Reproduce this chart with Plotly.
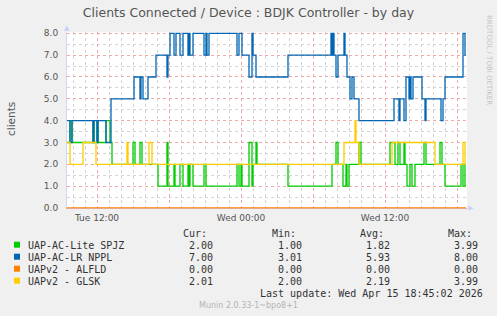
import plotly.graph_objects as go

# ---------------- data ----------------
# change points (day-of-month HH:MM, April 2026) and step values
green_t = ["14 09:30","14 09:45","14 09:55","14 11:40","14 11:45","14 12:00","14 12:05","14 12:45","14 13:05","14 13:15",
           "14 15:00","14 15:10","14 15:35","14 15:45","14 17:05","14 17:50","14 17:55","14 18:25","14 18:30","14 18:55",
           "14 19:10","14 19:35","14 19:40","14 19:45","14 20:00","14 20:55","14 21:05","14 23:40","14 23:50","15 00:00",
           "15 00:05","15 00:40","15 00:55","15 01:00","15 01:15","15 01:20","15 03:55","15 07:35","15 07:55","15 08:05",
           "15 08:30","15 08:45","15 08:50","15 09:00","15 09:50","15 10:00","15 12:25","15 12:50","15 13:05","15 13:15",
           "15 13:35","15 13:40","15 13:50","15 14:05","15 14:15","15 14:30","15 15:15","15 15:25","15 16:35","15 16:45",
           "15 17:00","15 18:20","15 18:30","15 18:40","15 18:45"]
green_v = [3,4,3,4,3,4,3,4,3,2,
           3,2,3,2,1,3,1,2,1,2,
           1,2,1,2,1,2,1,2,1,2,
           1,3,1,2,3,2,1,2,3,2,
           1,2,1,2,3,2,3,2,3,2,
           3,2,1,2,1,2,3,2,3,2,
           1,2,1,2,2]

blue_t = ["14 09:30","14 09:45","14 09:55","14 11:40","14 11:45","14 12:00","14 12:05","14 12:45","14 13:10","14 15:05",
          "14 15:35","14 15:40","14 15:50","14 16:15","14 16:55","14 17:50","14 17:55","14 18:05","14 18:25","14 18:35",
          "14 18:55","14 19:10","14 19:35","14 19:40","14 19:45","14 20:00","14 20:55","14 21:05","14 21:10","14 21:20",
          "14 23:40","14 23:50","15 00:05","15 00:40","15 00:55","15 01:00","15 01:15","15 03:55","15 07:30","15 07:35",
          "15 07:40","15 07:45","15 07:55","15 08:05","15 08:35","15 08:40","15 08:50","15 09:05","15 09:15","15 09:25",
          "15 09:50","15 12:45","15 13:10","15 13:15","15 13:35","15 13:45","15 14:00","15 14:05","15 14:10","15 14:20",
          "15 15:05","15 15:20","15 15:25","15 16:40","15 16:50","15 17:00","15 18:30","15 18:40","15 18:45"]
blue_v = [4,3,4,3,4,3,4,3,5,6,
          5,6,5,6,7,6,7,8,7,8,
          7,8,7,8,7,8,7,8,7,8,
          7,8,7,6,8,7,6,7,8,7,
          8,7,6,7,8,7,6,5,6,5,
          4,5,4,5,4,6,5,6,5,6,
          5,4,5,4,5,6,8,7,7]

orange_t = ["14 09:30","15 18:45"]
orange_v = [0,0]

yellow_t = ["14 09:30","14 09:45","14 10:50","14 11:55","14 14:30","14 14:35","14 16:20","14 16:35","15 08:35","15 09:30",
            "15 09:35","15 09:50","15 12:35","15 16:10","15 18:30","15 18:40","15 18:45"]
yellow_v = [3,2,3,2,3,2,3,2,3,4,
            3,2,3,2,3,2,2]

names = ["UAP-AC-Lite SPJZ", "UAP-AC-LR NPPL", "UAPv2 - ALFLD", "UAPv2 - GLSK"]
colors = ["#00CC00", "#0066B3", "#FF8000", "#FFCC00"]
cur = ["2.00", "7.00", "0.00", "2.01"]
mins = ["1.00", "3.01", "0.00", "2.00"]
avgs = ["1.82", "5.93", "0.00", "2.19"]
maxs = ["3.99", "8.00", "0.00", "3.99"]

x_ticks = ["2026-04-14 12:00", "2026-04-14 18:00", "2026-04-15 00:00", "2026-04-15 06:00",
           "2026-04-15 12:00", "2026-04-15 18:00"]
x_ticktext = ["Tue 12:00", "", "Wed 00:00", "", "Wed 12:00", ""]
y_ticks = [0, 1, 2, 3, 4, 5, 6, 7, 8]

title = "Clients Connected / Device : BDJK Controller - by day"
last_update = "Last update: Wed Apr 15 18:45:02 2026"
munin_ver = "Munin 2.0.33-1~bpo8+1"


def to_dt(s):
    return "2026-04-" + s


# ---------------- figure ----------------
W, H = 497, 316
L, R, T, B = 67, 30, 32, 108
PW, PH = W - L - R, H - T - B


def px(X):
    return (X - L) / PW


def py(Y):
    return (H - B - Y) / PH


fig = go.Figure()
series = [(green_t, green_v), (blue_t, blue_v), (orange_t, orange_v), (yellow_t, yellow_v)]
for (t, v), c, n in zip(series, colors, names):
    fig.add_trace(go.Scatter(x=[to_dt(s) for s in t], y=v, mode="lines", name=n,
                             line=dict(color=c, width=1.3, shape="hv"),
                             showlegend=False, hoverinfo="skip"))

mono = "DejaVu Sans Mono"
sans = "DejaVu Sans"

fig.update_layout(
    width=W, height=H,
    margin=dict(l=L, r=R, t=T, b=B, pad=0),
    paper_bgcolor="#F0F0F0",
    plot_bgcolor="#FFFFFF",
    title=dict(text=title, x=0.5, xref="container", xanchor="center",
               y=1 - 13 / H, yref="container", yanchor="middle",
               font=dict(family=sans, size=12.5, color="#555555")),
    xaxis=dict(type="date", range=["2026-04-14 09:30", "2026-04-15 18:50"],
               tickmode="array", tickvals=x_ticks, ticktext=x_ticktext,
               showgrid=True, gridcolor="#F0A8A8", griddash="dot", gridwidth=1,
               minor=dict(dtick=3600000, tick0="2026-04-14 00:00", showgrid=True,
                          gridcolor="#D4D4D4", griddash="dot", gridwidth=1),
               ticks="", showline=True, linecolor="#E8A890", linewidth=1,
               zeroline=False, tickfont=dict(family=sans, size=9, color="#555555"),
               ticklabelstandoff=1, fixedrange=True),
    yaxis=dict(range=[0, 8.06], tickmode="array", tickvals=y_ticks,
               ticktext=["%.1f" % v for v in y_ticks],
               showgrid=True, gridcolor="#F0A8A8", griddash="dot", gridwidth=1,
               minor=dict(dtick=0.5, showgrid=True, gridcolor="#D4D4D4", griddash="dot", gridwidth=1),
               ticks="", showline=True, linecolor="#D0D6F4", linewidth=1, zeroline=False,
               tickfont=dict(family=sans, size=9, color="#555555"),
               ticklabelstandoff=6, fixedrange=True),
)

ann = []
# y label
ann.append(dict(text="clients", x=px(11), y=py(119), xref="paper", yref="paper", showarrow=False,
                textangle=-90, font=dict(family=sans, size=10.5, color="#555555"),
                xanchor="center", yanchor="middle"))
# watermark
ann.append(dict(text="RRDTOOL / TOBI OETIKER", x=px(489), y=py(60), xref="paper", yref="paper",
                showarrow=False, textangle=90, font=dict(family=sans, size=7, color="#C4C4C4"),
                xanchor="center", yanchor="middle"))
# axis arrows
ann.append(dict(text="\u25B2", x=px(67), y=py(28), xref="paper", yref="paper", showarrow=False,
                font=dict(family=sans, size=7, color="#C8D0F8"), xanchor="center", yanchor="middle"))
ann.append(dict(text="\u25B6", x=px(471), y=py(208), xref="paper", yref="paper", showarrow=False,
                font=dict(family=sans, size=7, color="#C8D0F8"), xanchor="center", yanchor="middle"))

# legend table
hdr_y = 233.5
row_ys = [245.7, 257.7, 269.7, 281.7]
col_x = [181.7, 270.7, 359.0, 447.3]
for hx, h in zip(col_x, ["Cur:", "Min:", "Avg:", "Max:"]):
    ann.append(dict(text=h, x=px(hx - 1), y=py(hdr_y), xref="paper", yref="paper", showarrow=False,
                    xanchor="left", yanchor="middle", font=dict(family=mono, size=10, color="#333333")))

shapes = []
for i, (n, c) in enumerate(zip(names, colors)):
    ry = row_ys[i]
    shapes.append(dict(type="rect", xref="paper", yref="paper", x0=px(14), x1=px(20),
                       y0=py(ry - 4), y1=py(ry + 2), fillcolor=c, line=dict(width=0)))
    ann.append(dict(text=n, x=px(26), y=py(ry), xref="paper", yref="paper", showarrow=False,
                    xanchor="left", yanchor="middle", font=dict(family=mono, size=10, color="#333333")))
    for hx, vals in zip(col_x, [cur, mins, avgs, maxs]):
        ann.append(dict(text=vals[i], x=px(hx + 5), y=py(ry), xref="paper", yref="paper",
                        showarrow=False, xanchor="left", yanchor="middle",
                        font=dict(family=mono, size=10, color="#333333")))

ann.append(dict(text=last_update, x=px(484.5), y=py(293.3), xref="paper", yref="paper", showarrow=False,
                xanchor="right", yanchor="middle", font=dict(family=mono, size=10, color="#333333")))
ann.append(dict(text=munin_ver, x=px(248.5), y=py(305.5), xref="paper", yref="paper", showarrow=False,
                xanchor="center", yanchor="middle", font=dict(family=sans, size=8, color="#B4B4B4")))

fig.update_layout(annotations=ann, shapes=shapes)
fig.write_html("out.html", config={"displayModeBar": False})
